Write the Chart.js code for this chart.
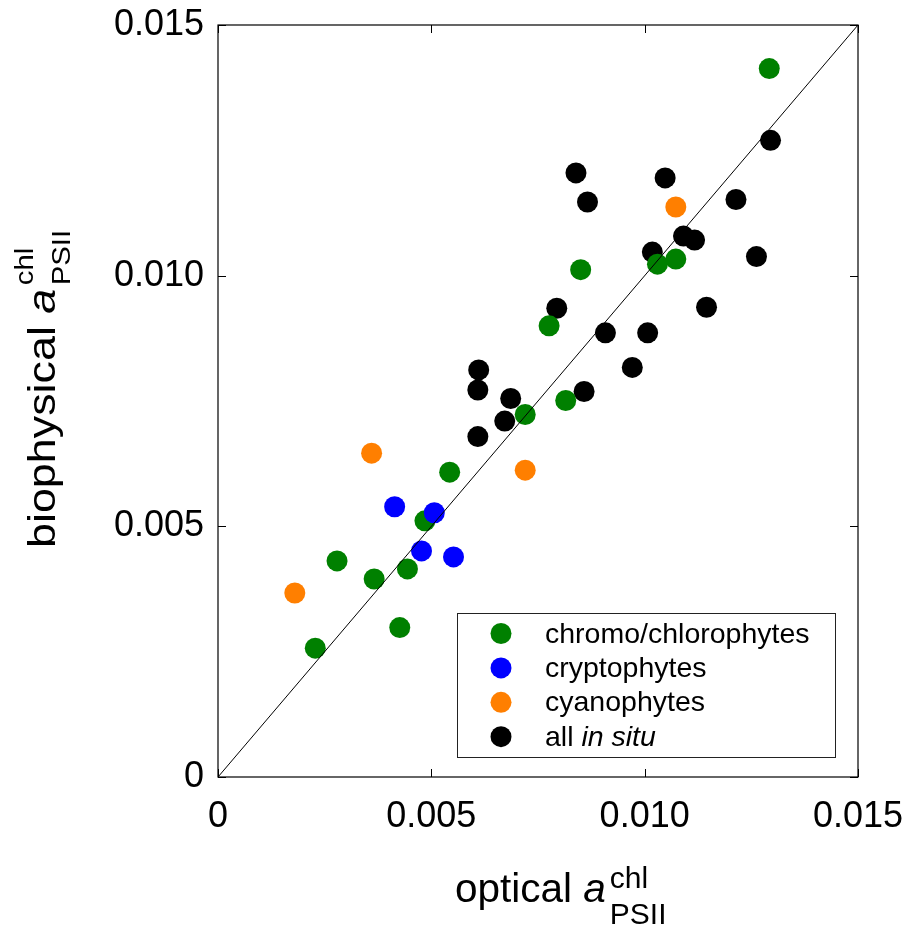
<!DOCTYPE html>
<html lang="en">

<head>
    <meta charset="UTF-8">
    <title>PSII absorption</title>
    <script src="https://cdn.jsdelivr.net/npm/chart.js"></script>
    <style>
        body { margin: 0; background: #fff; overflow: hidden; }
        canvas { display: block; }
    </style>
</head>

<body>
    <canvas id="chart" width="907" height="925"></canvas>

<script>
    // series names + colours (legend order)
    var seriesNames = ['chromo/chlorophytes', 'cryptophytes', 'cyanophytes', 'all in situ'];
    var seriesColors = ['#008000', '#0000ff', '#ff7f00', '#000000'];

    // optical a (x) vs biophysical a (y)
    var chromoX = [0.01292, 0.01030, 0.01073, 0.00850, 0.00776, 0.00815, 0.00720, 0.00543, 0.00485, 0.00279, 0.00444, 0.00366, 0.00426, 0.00228];
    var chromoY = [0.01413, 0.01023, 0.01033, 0.01012, 0.00900, 0.00751, 0.00723, 0.00608, 0.00511, 0.00431, 0.00415, 0.00395, 0.00298, 0.00257];

    var cryptoX = [0.00414, 0.00507, 0.00477, 0.00552];
    var cryptoY = [0.00539, 0.00527, 0.00451, 0.00439];

    var cyanoX = [0.01073, 0.00360, 0.00720, 0.00180];
    var cyanoY = [0.01137, 0.00646, 0.00612, 0.00367];

    var insituX = [0.01295, 0.00839, 0.01048, 0.00866, 0.01214, 0.01091, 0.01117, 0.01018, 0.01262, 0.00794,
                   0.00908, 0.01007, 0.01145, 0.00971, 0.00611, 0.00609, 0.00686, 0.00858, 0.00672, 0.00609];
    var insituY = [0.01270, 0.01205, 0.01195, 0.01147, 0.01152, 0.01079, 0.01071, 0.01047, 0.01038, 0.00935,
                   0.00886, 0.00886, 0.00937, 0.00817, 0.00812, 0.00772, 0.00755, 0.00769, 0.00710, 0.00679];

    // 1:1 line
    var diagX = [0, 0.015];
    var diagY = [0, 0.015];

    var xTickLabels = ['0', '0.005', '0.010', '0.015'];
    var yTickLabels = ['0', '0.005', '0.010', '0.015'];

    var FONT = '"Liberation Sans", Arial, Helvetica, sans-serif';

    function pts(xs, ys) {
        return xs.map((x, i) => ({ x: x, y: ys[i] }));
    }

    // draws text pieces one after another; sup pieces don't advance
    function drawRich(ctx, parts) {
        var x = 0;
        parts.forEach(p => {
            ctx.font = (p.italic ? 'italic ' : '') + p.size + 'px ' + FONT;
            ctx.fillText(p.text, x + (p.dx || 0), p.dy || 0);
            if (!p.noAdvance) x += (p.dx || 0) + ctx.measureText(p.text).width;
        });
    }

    // scales must not push the plot area around, layout.padding does that
    function noScalePadding(s) {
        s.paddingLeft = 0; s.paddingRight = 0;
        s.paddingTop = 0; s.paddingBottom = 0;
    }

    var framePlugin = {
        id: 'frame',
        afterDraw(chart) {
            var ctx = chart.ctx;
            var a = chart.chartArea;
            var xs = chart.scales.x, ys = chart.scales.y;
            ctx.save();

            // box
            ctx.strokeStyle = '#000';
            ctx.lineWidth = 1.2;
            ctx.strokeRect(a.left, a.top, a.right - a.left, a.bottom - a.top);

            // inward ticks on all four sides
            var tl = 8;
            ctx.beginPath();
            xs.ticks.forEach(t => {
                var px = Math.round(xs.getPixelForValue(t.value)) + 0.5;
                ctx.moveTo(px, a.bottom); ctx.lineTo(px, a.bottom - tl);
                ctx.moveTo(px, a.top); ctx.lineTo(px, a.top + tl);
            });
            ys.ticks.forEach(t => {
                var py = Math.round(ys.getPixelForValue(t.value)) + 0.5;
                ctx.moveTo(a.left, py); ctx.lineTo(a.left + tl, py);
                ctx.moveTo(a.right, py); ctx.lineTo(a.right - tl, py);
            });
            ctx.lineWidth = 1;
            ctx.stroke();

            // legend box, bottom right inside plot
            var lw = 378, lh = 144;
            var lx = a.right - 23 - lw, ly = a.bottom - 20 - lh;
            ctx.fillStyle = '#fff';
            ctx.fillRect(lx, ly, lw, lh);
            ctx.strokeStyle = '#222';
            ctx.lineWidth = 1;
            ctx.strokeRect(lx + 0.5, ly + 0.5, lw, lh);
            seriesNames.forEach((name, i) => {
                var ry = ly + 20.5 + i * 34.4;
                ctx.fillStyle = seriesColors[i];
                ctx.beginPath();
                ctx.arc(lx + 44, ry, 10.5, 0, Math.PI * 2);
                ctx.fill();
                ctx.fillStyle = '#000';
                ctx.textBaseline = 'alphabetic';
                ctx.textAlign = 'left';
                ctx.save();
                ctx.translate(lx + 88, ry + 9);
                if (name === 'all in situ') {
                    drawRich(ctx, [{ text: 'all ', size: 28.5 }, { text: 'in situ', size: 28.5, italic: true }]);
                } else {
                    drawRich(ctx, [{ text: name, size: 28.5 }]);
                }
                ctx.restore();
            });

            // x axis title
            ctx.fillStyle = '#000';
            ctx.textAlign = 'left';
            ctx.textBaseline = 'alphabetic';
            ctx.save();
            ctx.translate(455, 902);
            drawRich(ctx, [
                { text: 'optical ', size: 40.5 },
                { text: 'a', size: 40.5, italic: true },
                { text: 'chl', size: 30, dy: -14, dx: 4, noAdvance: true },
                { text: 'PSII', size: 30, dy: 22, dx: 4 }
            ]);
            ctx.restore();

            // y axis title (rotated, a bit stretched like the original)
            ctx.save();
            ctx.translate(55, 548);
            ctx.rotate(-Math.PI / 2);
            ctx.scale(1.15, 1);
            drawRich(ctx, [
                { text: 'biophysical ', size: 39 },
                { text: 'a', size: 39, italic: true },
                { text: 'chl', size: 25.5, dy: -22, dx: 3, noAdvance: true },
                { text: 'PSII', size: 25.5, dy: 15, dx: 3 }
            ]);
            ctx.restore();

            ctx.restore();
        }
    };

    var scatterBase = { type: 'scatter', pointRadius: 10.5, pointHoverRadius: 10.5, borderWidth: 0 };

    new Chart(document.getElementById('chart'), {
        type: 'scatter',
        data: {
            datasets: [
                {
                    type: 'line', label: '1:1', data: pts(diagX, diagY),
                    borderColor: '#000', borderWidth: 1, pointRadius: 0, fill: false, order: 0
                },
                Object.assign({}, scatterBase, { label: seriesNames[1], data: pts(cryptoX, cryptoY), backgroundColor: seriesColors[1], order: 1 }),
                Object.assign({}, scatterBase, { label: seriesNames[2], data: pts(cyanoX, cyanoY), backgroundColor: seriesColors[2], order: 2 }),
                Object.assign({}, scatterBase, { label: seriesNames[0], data: pts(chromoX, chromoY), backgroundColor: seriesColors[0], order: 3 }),
                Object.assign({}, scatterBase, { label: seriesNames[3], data: pts(insituX, insituY), backgroundColor: seriesColors[3], order: 4 })
            ]
        },
        options: {
            responsive: false,
            animation: false,
            layout: { autoPadding: false, padding: { left: 0, right: 49, top: 25, bottom: 0 } },
            plugins: {
                legend: { display: false },
                tooltip: { enabled: false }
            },
            scales: {
                x: {
                    type: 'linear',
                    min: 0,
                    max: 0.015,
                    grid: { display: false, drawTicks: false },
                    border: { display: false },
                    ticks: {
                        stepSize: 0.005,
                        padding: 18,
                        color: '#000',
                        maxRotation: 0,
                        font: { family: FONT, size: 36 },
                        callback: (v, i) => xTickLabels[i]
                    },
                    afterFit: s => { s.height = 148; noScalePadding(s); }
                },
                y: {
                    type: 'linear',
                    min: 0,
                    max: 0.015,
                    grid: { display: false, drawTicks: false },
                    border: { display: false },
                    ticks: {
                        stepSize: 0.005,
                        padding: 14,
                        color: '#000',
                        font: { family: FONT, size: 36 },
                        callback: (v, i) => yTickLabels[i]
                    },
                    afterFit: s => { s.width = 218; noScalePadding(s); }
                }
            }
        },
        plugins: [framePlugin]
    });
</script>
</body>

</html>
